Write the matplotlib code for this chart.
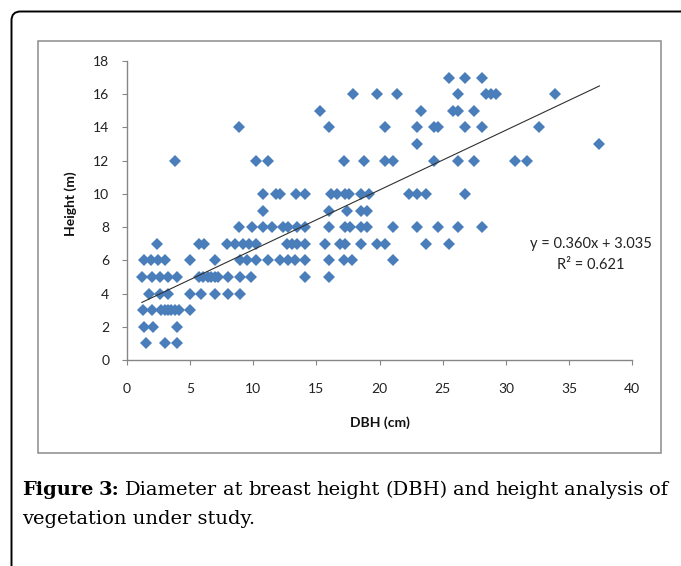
import matplotlib
matplotlib.use("Agg")
import matplotlib.pyplot as plt
from matplotlib.path import Path
from matplotlib.patches import PathPatch, Rectangle
from matplotlib.transforms import Affine2D

# ---------------- data ----------------
dbh_cm = [
    1.5, 3.0, 4.0,                                   # h = 1
    1.4, 2.1, 4.0,                                   # h = 2
    1.3, 2.0, 2.75, 3.0, 3.3, 3.5, 3.8, 4.1, 5.0,    # h = 3
    1.8, 2.6, 3.3, 5.0, 5.9, 7.0, 8.0, 9.0,          # h = 4
    1.2, 2.0, 2.6, 3.3, 4.0, 5.7, 6.0, 6.4, 6.7, 7.0, 7.2, 8.0, 9.0, 9.8, 14.1, 16.0,  # h = 5
    1.35, 1.95, 2.5, 3.0, 5.0, 7.0, 9.0, 9.5, 10.2, 11.2, 12.1, 12.8, 13.3, 14.1,
    16.0, 17.2, 17.8, 21.1,                          # h = 6
    2.4, 5.7, 6.1, 7.9, 8.6, 9.2, 9.7, 10.2, 12.7, 13.1, 13.5, 14.1, 15.7, 16.9,
    17.3, 18.5, 19.8, 20.4, 23.7, 25.5,              # h = 7
    8.9, 9.9, 10.8, 11.5, 12.4, 12.8, 13.5, 14.1, 16.0, 17.3, 17.7, 18.5, 19.0,
    21.1, 23.0, 24.6, 26.2, 28.1,                    # h = 8
    10.8, 16.0, 17.4, 18.5, 19.0,                    # h = 9
    10.8, 11.8, 12.1, 13.4, 14.1, 16.2, 16.6, 17.3, 17.6, 18.5, 19.2, 22.3, 23.0,
    23.7, 26.8,                                      # h = 10
    3.8, 10.2, 11.2, 17.2, 18.8, 20.4, 21.1, 24.3, 26.2, 27.5, 30.7, 31.7,  # h = 12
    23.0, 37.4,                                      # h = 13
    8.9, 16.0, 20.4, 23.0, 24.3, 24.6, 26.8, 28.1, 32.6,  # h = 14
    15.3, 23.3, 25.8, 26.2, 27.5,                    # h = 15
    17.9, 19.8, 21.4, 26.2, 28.4, 28.8, 29.2, 33.9,  # h = 16
    25.5, 26.8, 28.1,                                # h = 17
]
height_m = (
    [1] * 3 + [2] * 3 + [3] * 9 + [4] * 8 + [5] * 16 + [6] * 18 + [7] * 20 +
    [8] * 18 + [9] * 5 + [10] * 15 + [12] * 12 + [13] * 2 + [14] * 9 +
    [15] * 5 + [16] * 8 + [17] * 3
)

trend_slope = 0.360
trend_intercept = 3.035
r_squared = 0.621

x_ticks = [0, 5, 10, 15, 20, 25, 30, 35, 40]
y_ticks = [0, 2, 4, 6, 8, 10, 12, 14, 16, 18]

x_label = "DBH (cm)"
y_label = "Height (m)"
caption_bold = "Figure 3:"
caption_line1 = "Diameter at breast height (DBH) and height analysis of"
caption_line2 = "vegetation under study."

# ---------------- figure ----------------
W, H = 681, 566
fig = plt.figure(figsize=(W / 100, H / 100), dpi=100)
pix = Affine2D().scale(1 / W, -1 / H).translate(0, 1) + fig.transFigure

# outer border (rounded top-left corner, open on right and bottom)
r = 9
x0, y0 = 11.5, 11.5
verts = [(x0, H + 5), (x0, y0 + r), (x0, y0), (x0 + r, y0), (W + 5, y0)]
codes = [Path.MOVETO, Path.LINETO, Path.CURVE3, Path.CURVE3, Path.LINETO]
fig.patches.append(PathPatch(Path(verts, codes), transform=pix, fill=False,
                             edgecolor="black", lw=1.4, figure=fig))

# inner chart frame
fig.patches.append(Rectangle((37.5, 40.5), 623, 412, transform=pix, fill=False,
                             edgecolor="#8c8c8c", lw=1.1, figure=fig))

ax = fig.add_axes([126.7 / W, (H - 360) / H, (632.3 - 126.7) / W, (360 - 61) / H])
ax.set_facecolor("none")

ax.plot(dbh_cm, height_m, linestyle="none", marker="D", markersize=6.6,
        markerfacecolor="#4A7EBB", markeredgewidth=0, zorder=3)

xmin, xmax = min(dbh_cm), max(dbh_cm)
ax.plot([xmin, xmax], [trend_slope * xmin + trend_intercept,
                       trend_slope * xmax + trend_intercept],
        color="#303030", lw=0.8, zorder=4)

ax.set_xlim(0, 40)
ax.set_ylim(0, 18)
ax.set_xticks(x_ticks)
ax.set_yticks(y_ticks)
ax.set_xticklabels([str(t) for t in x_ticks])
ax.set_yticklabels([str(t) for t in y_ticks])

for s in ["top", "right"]:
    ax.spines[s].set_visible(False)
for s in ["left", "bottom"]:
    ax.spines[s].set_color("#868686")
    ax.spines[s].set_linewidth(1.0)
ax.tick_params(axis="both", direction="out", length=3.6, width=0.8,
               color="#868686", labelsize=10, labelcolor="#222222")
ax.tick_params(axis="x", pad=13)
ax.tick_params(axis="y", pad=9)
for lab in ax.get_xticklabels() + ax.get_yticklabels():
    lab.set_fontfamily("Lato")

fig.text(380 / W, 1 - 423 / H, x_label, ha="center", va="center",
         fontfamily="Lato", fontweight="bold", fontsize=10, color="#111111")
fig.text(71 / W, 1 - 204 / H, y_label, ha="center", va="center", rotation=90,
         fontfamily="Lato", fontweight="bold", fontsize=10, color="#111111")

fig.text(591 / W, 1 - 244 / H, "y = %.3fx + %.3f" % (trend_slope, trend_intercept),
         ha="center", va="center", fontfamily="Lato", fontsize=10.5, color="#222222")
fig.text(591 / W, 1 - 265 / H, "R\u00b2 = %.3f" % r_squared,
         ha="center", va="center", fontfamily="Lato", fontsize=10.5, color="#222222")

# caption, first line justified between x=22 and x=668
cap_font = dict(fontfamily="DejaVu Serif", fontsize=14, color="black")
renderer = fig.canvas.get_renderer()
words = [(w, "bold") for w in caption_bold.split()] + \
        [(w, "normal") for w in caption_line1.split()]
texts = []
for w, wt in words:
    t = fig.text(0, 1 - 490 / H, w, ha="left", va="center", fontweight=wt, **cap_font)
    texts.append(t)
widths = [t.get_window_extent(renderer).width for t in texts]
left, right = 22, 668
gap = (right - left - sum(widths)) / (len(texts) - 1)
xpos = left
for t, wdt in zip(texts, widths):
    t.set_x(xpos / W)
    xpos += wdt + gap

fig.text(22 / W, 1 - 519 / H, caption_line2, ha="left", va="center", **cap_font)

fig.savefig("out.png", dpi=100)
